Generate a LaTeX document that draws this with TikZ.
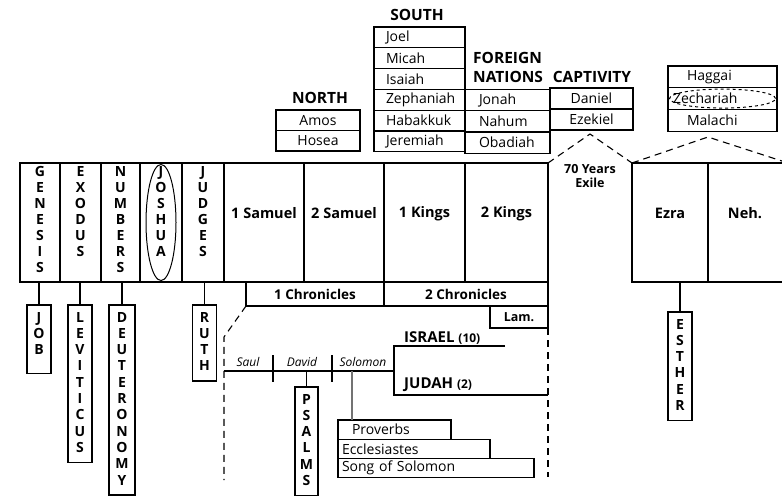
\documentclass[tikz,border=0pt]{standalone}
\usepackage{fontspec}
\setmainfont{Open Sans}
\usetikzlibrary{positioning,shapes.geometric}
\tikzset{
  bk/.style={draw,line width=1.7pt,minimum height=119,inner sep=0pt,outer sep=0pt},
  lbl/.style={font=\fontsize{14.5}{16}\selectfont\bfseries,inner sep=0pt},
  vw/.style={align=center,font=\fontsize{14}{16}\selectfont\bfseries,inner sep=0pt,anchor=north},
  hang/.style={draw,line width=1.2pt,align=center,font=\fontsize{14}{16.3}\selectfont\bfseries,
               minimum width=24,inner xsep=0pt,inner ysep=7pt,text depth=3pt,anchor=north,outer sep=0pt},
  hd/.style={font=\fontsize{15.5}{19}\selectfont\bfseries,inner sep=0pt},
  cell/.style={draw,line width=1.1pt,font=\fontsize{14}{15}\selectfont,inner sep=0pt,outer sep=0pt},
  link/.style={line width=1.1pt},
  dsh/.style={line width=1.1pt,dash pattern=on 7pt off 5pt},
}
\begin{document}
\begin{tikzpicture}[x=1pt,y=-1pt,
    south/.style={cell,minimum height=20.8,text width=67,inner xsep=12,align=left},
    north/.style={cell,minimum width=84,minimum height=20.5},
    forn/.style={cell,minimum height=21.3,text width=57,inner xsep=14,align=left},
    capt/.style={cell,minimum width=83,minimum height=21},
    post/.style={cell,minimum height=21.7,text width=71,inner xsep=19,align=left},
    wis/.style={cell,minimum height=19.3,align=left,anchor=north west}]
  \useasboundingbox (0,0) rectangle (782,496);

  % main bar
  \node[bk,minimum width=40,anchor=north west] (gen) at (20,163) {};
  \node[bk,minimum width=41,right=0pt of gen] (exo) {};
  \node[bk,minimum width=39,right=0pt of exo] (num) {};
  \node[bk,minimum width=42,right=0pt of num] (jos) {};
  \node[bk,minimum width=42,right=0pt of jos] (jdg) {};
  \node[bk,minimum width=80,right=0pt of jdg] (sam1) {};
  \node[bk,minimum width=80,right=0pt of sam1] (sam2) {};
  \node[bk,minimum width=81,right=0pt of sam2] (kin1) {};
  \node[bk,minimum width=83,right=0pt of kin1] (kin2) {};
  \foreach \n/\w in {gen/{G\\E\\N\\E\\S\\I\\S},exo/{E\\X\\O\\D\\U\\S},num/{N\\U\\M\\B\\E\\R\\S},
                     jos/{J\\O\\S\\H\\U\\A},jdg/{J\\U\\D\\G\\E\\S}}
    \node[vw] (\n-w) at ([yshift=-3pt]\n.north) {\w};
  \node[draw,ellipse,line width=1pt,minimum width=30,minimum height=116,inner sep=0pt] (jos-e) at (jos.center) {};
  \foreach \n/\w in {sam1/1 Samuel,sam2/2 Samuel,kin1/1 Kings,kin2/2 Kings}
    \node[lbl] (\n-l) at ([yshift=9pt]\n.center) {\w};

  % after the exile
  \node[bk,minimum width=76,anchor=north west] (ezra) at (632,163) {};
  \node[bk,minimum width=80,right=0pt of ezra] (neh) {};
  \node[lbl] (ezra-l) at ([yshift=9pt]ezra.center) {Ezra};
  \node[lbl] (neh-l) at ([yshift=9pt,xshift=-3pt]neh.center) {Neh.};
  \node[align=center,font=\fontsize{12.5}{14}\selectfont\bfseries,inner sep=0pt] (exile) at (590,176) {70 Years\\Exile};

  % prophets
  \node[hd] (south-h) at (417,15) {SOUTH};
  \node[south,anchor=north west] (joel) at (374,27) {Joel};
  \node[south,below=0pt of joel] (mic) {Micah};
  \node[south,below=0pt of mic] (isa) {Isaiah};
  \node[south,below=0pt of isa] (zep) {Zephaniah};
  \node[south,below=0pt of zep] (hab) {Habakkuk};
  \node[south,below=0pt of hab] (jer) {Jeremiah};

  \node[hd] (north-h) at (320,98) {NORTH};
  \node[north,anchor=north west] (amos) at (276,110) {Amos};
  \node[north,below=0pt of amos] (hos) {Hosea};

  \node[hd,align=left,anchor=west] (forn-h) at (473,67) {FOREIGN\\NATIONS};
  \node[forn,anchor=north west] (jon) at (zep.north east) {Jonah};
  \node[forn,below=0pt of jon] (nah) {Nahum};
  \node[forn,below=0pt of nah] (oba) {Obadiah};

  \node[hd] (capt-h) at (592,77) {CAPTIVITY};
  \node[capt,anchor=north west] (dan) at (550,88) {Daniel};
  \node[capt,below=0pt of dan] (eze) {Ezekiel};

  \node[post,anchor=north west] (hag) at (668,66) {Haggai};
  \node[post,below=0pt of hag] (zec) {\hspace*{-14pt}Zechariah};
  \node[post,below=0pt of zec] (mal) {Malachi};
  \node[draw,ellipse,dashed,line width=1pt,minimum width=106,minimum height=19,inner sep=0pt] (zec-e) at (zec.center) {};

  \coordinate (capt-top) at (590,134);
  \coordinate (post-top) at (708,137);
  \draw[dsh] (kin2.north east) -- (capt-top) -- (ezra.north west);
  \draw[dsh] (ezra.north west) -- (post-top) -- (neh.north east);

  % books hanging below
  \node[hang,text depth=12pt] (job) at (39,305) {J\\O\\B};
  \node[hang] (lev) at (80,305) {L\\E\\V\\I\\T\\I\\C\\U\\S};
  \node[hang,minimum width=26] (deu) at (122,305) {D\\E\\U\\T\\E\\R\\O\\N\\O\\M\\Y};
  \node[hang] (ruth) at (204.5,305) {R\\U\\T\\H};
  \node[hang] (est) at (680,312) {E\\S\\T\\H\\E\\R};
  \foreach \n in {job,lev,deu,ruth} \draw[link] (\n.north) -- (\n.north |- gen.south);
  \draw[link] (est.north) -- (est.north |- ezra.south);

  % chronicles
  \node[cell,font=\fontsize{13.5}{15}\selectfont\bfseries,minimum width=138,minimum height=24,anchor=north west] (chr1) at (246,282) {1 Chronicles};
  \node[cell,font=\fontsize{13.5}{15}\selectfont\bfseries,minimum width=164,minimum height=24,right=0pt of chr1] (chr2) {2 Chronicles};
  \node[cell,font=\fontsize{12.5}{14}\selectfont\bfseries,minimum width=58,minimum height=22,anchor=north east] (lam) at (chr2.south east) {Lam.};

  \coordinate (dl) at (224,337);
  \coordinate (dlb) at (224,480);
  \coordinate (drb) at (548,477);
  \draw[dsh] (chr1.south west) -- (dl) -- (dlb);
  \draw[dsh] (lam.south east) -- (drb);

  % kingdom
  \coordinate (t0) at (224,371);
  \coordinate (split) at (394,371);
  \coordinate (isr-a) at (394,346);
  \coordinate (isr-b) at (505,346);
  \coordinate (jud-a) at (394,395);
  \coordinate (jud-b) at (548,395);
  \draw[link] (t0) -- (split);
  \draw[link] (isr-b) -- (isr-a) -- (jud-a) -- (jud-b);
  \foreach \x in {273,332} \draw[link] (\x,355) -- (\x,382);
  \node[font=\fontsize{12}{14}\selectfont\itshape,inner sep=0pt] (saul) at (248,362) {Saul};
  \node[font=\fontsize{12}{14}\selectfont\itshape,inner sep=0pt] (david) at (302,362) {David};
  \node[font=\fontsize{12}{14}\selectfont\itshape,inner sep=0pt] (solo) at (363,362) {Solomon};
  \node[font=\fontsize{15}{16}\selectfont\bfseries,anchor=base west,inner sep=0pt] (isr) at (404,342) {ISRAEL {\fontsize{12}{14}\selectfont(10)}};
  \node[font=\fontsize{15}{16}\selectfont\bfseries,anchor=base west,inner sep=0pt] (jud) at (404,388) {JUDAH {\fontsize{12}{14}\selectfont(2)}};

  \node[hang,minimum width=23] (psa) at (306.5,387) {P\\S\\A\\L\\M\\S};
  \draw[link] (psa.north) -- (psa.north |- t0);

  \node[wis,text width=85,inner xsep=14] (prov) at (338,420) {Proverbs};
  \node[wis,text width=144,inner xsep=4] (eccl) at (prov.south west) {Ecclesiastes};
  \node[wis,text width=188,inner xsep=4] (song) at (eccl.south west) {Song of Solomon};
  \draw[link,black!55] ([xshift=14pt]prov.north west) -- ([xshift=14pt]prov.north west |- t0);
\end{tikzpicture}
\end{document}
